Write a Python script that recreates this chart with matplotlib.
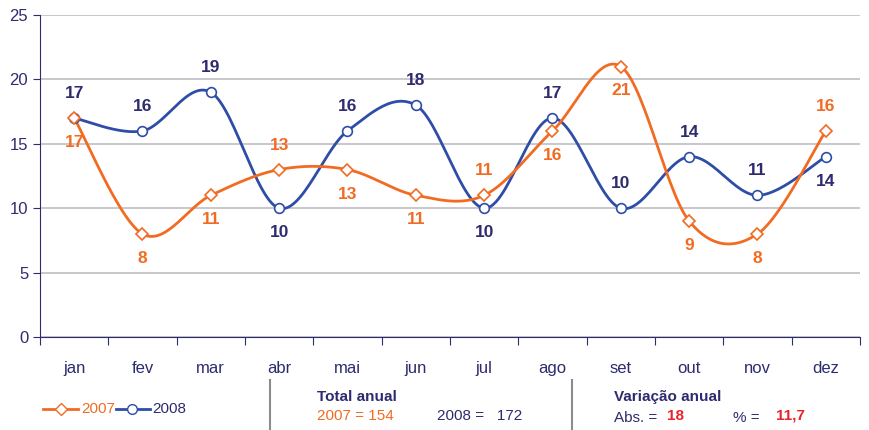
import numpy as np
import matplotlib
matplotlib.use("Agg")
import matplotlib.pyplot as plt
from matplotlib import font_manager

months = ["jan", "fev", "mar", "abr", "mai", "jun", "jul", "ago", "set", "out", "nov", "dez"]
v2007 = [17, 8, 11, 13, 13, 11, 11, 16, 21, 9, 8, 16]
v2008 = [17, 16, 19, 10, 16, 18, 10, 17, 10, 14, 11, 14]
# label position: +1 above, -1 below
pos2007 = [-1, -1, -1, 1, -1, -1, 1, -1, -1, -1, -1, 1]
pos2008 = [1, 1, 1, -1, 1, 1, -1, 1, 1, 1, 1, -1]
total2007, total2008 = 154, 172
var_abs, var_pct = "18", "11,7"

names = {f.name for f in font_manager.fontManager.ttflist}
fam = ["Liberation Sans Narrow", "DejaVu Sans"] if "Liberation Sans Narrow" in names else ["Liberation Sans", "DejaVu Sans"]
plt.rcParams["font.family"] = fam

ORANGE = "#F26B22"
BLUE = "#2E4DA7"
NAVY = "#2E2B6E"
RED = "#E8242B"
GRID = "#BDBDC4"


def smooth(xs, ys, n=30):
    xs = np.asarray(xs, float)
    ys = np.asarray(ys, float)
    P = np.column_stack([xs, ys])
    ext = np.vstack([P[0], P, P[-1]])
    out = []
    for i in range(len(P) - 1):
        p0, p1, p2, p3 = ext[i], ext[i + 1], ext[i + 2], ext[i + 3]
        c1 = p1 + (p2 - p0) / 6.0
        c2 = p2 - (p3 - p1) / 6.0
        t = np.linspace(0, 1, n)[:, None]
        seg = (1 - t) ** 3 * p1 + 3 * (1 - t) ** 2 * t * c1 + 3 * (1 - t) * t ** 2 * c2 + t ** 3 * p2
        out.append(seg if i == 0 else seg[1:])
    s = np.vstack(out)
    return s[:, 0], s[:, 1]


fig = plt.figure(figsize=(8.7, 4.3), dpi=100)
ax = fig.add_axes([40 / 870, (430 - 337) / 430, 820 / 870, (337 - 15) / 430])
x = np.arange(len(months))

ax.set_xlim(-0.5, 11.5)
ax.set_ylim(0, 25)
ax.set_yticks([0, 5, 10, 15, 20, 25])
ax.yaxis.grid(True, color=GRID, linewidth=1.2)
ax.set_axisbelow(True)
for s in ["top", "right"]:
    ax.spines[s].set_visible(False)
ax.spines["left"].set_color(NAVY)
ax.spines["bottom"].set_color(NAVY)
ax.set_xticks(np.arange(-0.5, 12, 1))
ax.set_xticklabels([])
ax.set_xticks(x, minor=True)
ax.set_xticklabels(months, minor=True)
ax.tick_params(axis="x", which="major", length=6, color=NAVY, direction="out")
ax.tick_params(axis="x", which="minor", length=0, pad=17, labelsize=12, labelcolor=NAVY)
ax.tick_params(axis="y", length=5, color=NAVY, labelsize=12, labelcolor=NAVY)

sx, sy = smooth(x, v2008)
ax.plot(sx, sy, color=BLUE, lw=2, zorder=3)
ax.plot(x, v2008, "o", ms=7, mfc="white", mec=BLUE, mew=1.2, zorder=4)
sx, sy = smooth(x, v2007)
ax.plot(sx, sy, color=ORANGE, lw=2, zorder=3)
ax.plot(x, v2007, "D", ms=6, mfc="white", mec=ORANGE, mew=1.2, zorder=4)

for xi, v, p in zip(x, v2008, pos2008):
    ax.text(xi, v + p * 1.9, str(v), ha="center", va="center", color=NAVY,
            fontsize=12.5, fontweight="bold")
for xi, v, p in zip(x, v2007, pos2007):
    ax.text(xi, v + p * 1.9, str(v), ha="center", va="center", color=ORANGE,
            fontsize=12.5, fontweight="bold")

# bottom panel
def fx(px):
    return px / 870
def fy(py):
    return 1 - py / 430

fig.add_artist(plt.Line2D([fx(43), fx(78)], [fy(409)] * 2, color=ORANGE, lw=2))
fig.add_artist(plt.Line2D([fx(61)], [fy(409)], marker="D", ms=6, mfc="white", mec=ORANGE, color=ORANGE))
fig.text(fx(81), fy(409), "2007", color=ORANGE, fontsize=11, ha="left", va="center")
fig.add_artist(plt.Line2D([fx(116), fx(150)], [fy(409)] * 2, color=BLUE, lw=2))
fig.add_artist(plt.Line2D([fx(132)], [fy(409)], marker="o", ms=7, mfc="white", mec=BLUE, color=BLUE))
fig.text(fx(152), fy(409), "2008", color=NAVY, fontsize=11, ha="left", va="center")

for px in (270, 572):
    fig.add_artist(plt.Line2D([fx(px)] * 2, [fy(380), fy(430)], color="#8C8C8C", lw=1.5))

fig.text(fx(317), fy(397), "Total anual", color=NAVY, fontsize=11, fontweight="bold", ha="left", va="center")
fig.text(fx(317), fy(416), f"2007 = {total2007}", color=ORANGE, fontsize=11, ha="left", va="center")
fig.text(fx(437), fy(416), f"2008 =   {total2008}", color=NAVY, fontsize=11, ha="left", va="center")

fig.text(fx(614), fy(397), "Variação anual", color=NAVY, fontsize=11, fontweight="bold", ha="left", va="center")
fig.text(fx(614), fy(418), "Abs. =", color=NAVY, fontsize=11, ha="left", va="center")
fig.text(fx(667), fy(416), var_abs, color=RED, fontsize=11, fontweight="bold", ha="left", va="center")
fig.text(fx(733), fy(418), "% =", color=NAVY, fontsize=11, ha="left", va="center")
fig.text(fx(776), fy(416), var_pct, color=RED, fontsize=11, fontweight="bold", ha="left", va="center")

fig.savefig("out.png", dpi=100)
